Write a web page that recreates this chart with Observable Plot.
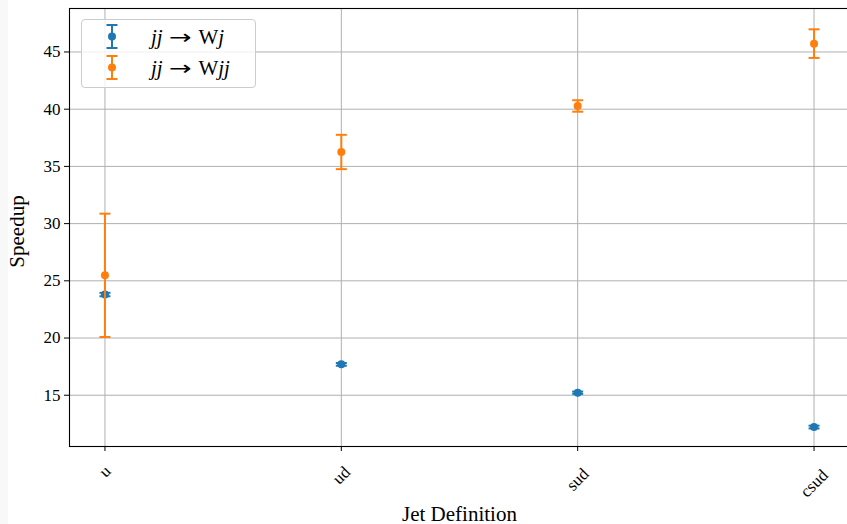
<!DOCTYPE html>
<html>
<head>
<meta charset="utf-8">
<script src="https://cdn.jsdelivr.net/npm/d3@7"></script>
<script src="https://cdn.jsdelivr.net/npm/@observablehq/plot@0.6"></script>
<style>
  html, body { margin: 0; padding: 0; overflow: hidden; width: 847px; height: 524px;
    background: linear-gradient(to right, #f8f8f8 8px, #ffffff 8px); }
  #wrap { position: relative; width: 847px; height: 524px; }
  #chart svg { background: transparent !important; }
  #legend { position: absolute; left: 81px; top: 19px; width: 173px; height: 67px;
    border: 1px solid #cccccc; border-radius: 4px; background: rgba(255,255,255,0.8);
    font-family: "Liberation Serif", "DejaVu Serif", serif; font-size: 21px; color: #000; }
  .row { position: absolute; left: 0; height: 31px; width: 173px; }
  .row svg { position: absolute; left: 22px; top: 0; }
  .row .lbl { position: absolute; left: 69px; top: 2px; white-space: nowrap; }
  .lbl i { font-style: italic; }
  .lbl .arr { display: inline-block; font-family: "DejaVu Sans", sans-serif; font-size: 20px;
    margin: 0 10px 0 9px; transform: scaleX(1.35); }
</style>
</head>
<body>
<div id="wrap">
  <div id="chart"></div>
  <div id="legend"></div>
</div>
<script>
const categories = ["u", "ud", "sud", "csud"];
const seriesNames = ["jj → Wj", "jj → Wjj"];
const wjSpeedup = [23.8, 17.7, 15.22, 12.22];
const wjError = [0.15, 0.12, 0.1, 0.12];
const wjjSpeedup = [25.48, 36.26, 40.28, 45.73];
const wjjError = [5.39, 1.5, 0.5, 1.25];
const yTicks = [15, 20, 25, 30, 35, 40, 45];
const colors = ["#1f77b4", "#ff7f0e"];

const rows = [];
categories.forEach((c, i) => {
  rows.push({i, cat: c, series: 0, v: wjSpeedup[i], lo: wjSpeedup[i] - wjError[i], hi: wjSpeedup[i] + wjError[i]});
  rows.push({i, cat: c, series: 1, v: wjjSpeedup[i], lo: wjjSpeedup[i] - wjjError[i], hi: wjjSpeedup[i] + wjjError[i]});
});

const capSymbol = { draw(ctx) { ctx.moveTo(-5.5, 0); ctx.lineTo(5.5, 0); } };
const font = "'Liberation Serif', 'DejaVu Serif', serif";

const tickLabelMarks = categories.map((c, i) =>
  Plot.text([i], {x: d => d, text: () => c, frameAnchor: "bottom", rotate: -45,
    textAnchor: "middle", lineAnchor: "middle", dy: 21 + 4 * c.length, fontSize: 17, fill: "black"})
);

const seriesMarks = [0, 1].flatMap(s => {
  const d = rows.filter(r => r.series === s);
  return [
    Plot.ruleX(d, {x: "i", y1: "lo", y2: "hi", stroke: colors[s], strokeWidth: 2}),
    Plot.dot(d, {x: "i", y: "lo", symbol: capSymbol, stroke: colors[s], strokeWidth: 2, fill: "none"}),
    Plot.dot(d, {x: "i", y: "hi", symbol: capSymbol, stroke: colors[s], strokeWidth: 2, fill: "none"}),
    Plot.dot(d, {x: "i", y: "v", r: 4, fill: colors[s], stroke: "none"})
  ];
});

const chart = Plot.plot({
  width: 847,
  height: 524,
  marginLeft: 69,
  marginRight: -2,
  marginTop: 8,
  marginBottom: 78,
  style: {fontFamily: font, fontSize: "16px", color: "black", background: "transparent", overflow: "hidden"},
  x: {domain: [-0.15, 3.15], label: null},
  y: {domain: [10.52, 48.8], label: null},
  marks: [
    Plot.gridX([0, 1, 2, 3], {stroke: "#b0b0b0", strokeOpacity: 1, strokeWidth: 1}),
    Plot.gridY(yTicks, {stroke: "#b0b0b0", strokeOpacity: 1, strokeWidth: 1}),
    Plot.axisY(yTicks, {tickSize: 5, tickPadding: 4, fontSize: 17, label: null, tickFormat: d => String(d)}),
    Plot.axisX([0, 1, 2, 3], {tickSize: 5, tickFormat: () => "", label: null}),
    ...tickLabelMarks,
    Plot.text(["Speedup"], {text: d => d, frameAnchor: "left", textAnchor: "middle", lineAnchor: "middle",
      rotate: -90, dx: -52, dy: 4, fontSize: 21, fill: "black"}),
    Plot.text(["Jet Definition"], {text: d => d, frameAnchor: "bottom", textAnchor: "middle", lineAnchor: "bottom",
      dy: 74, fontSize: 21, fill: "black"}),
    ...seriesMarks,
    Plot.frame({stroke: "black", strokeWidth: 1.1})
  ]
});
document.getElementById("chart").appendChild(chart);

// legend (inside the axes, top-left)
const legend = document.getElementById("legend");
const labelHtml = [
  "<i>jj</i><span class=\"arr\">→</span>W<i>j</i>",
  "<i>jj</i><span class=\"arr\">→</span>W<i>jj</i>"
];
seriesNames.forEach((name, s) => {
  const row = document.createElement("div");
  row.className = "row";
  row.style.top = (s === 0 ? 3 : 34) + "px";
  row.innerHTML =
    `<svg width="20" height="30" viewBox="0 0 20 30">
       <line x1="8" y1="2" x2="8" y2="25" stroke="${colors[s]}" stroke-width="2"/>
       <line x1="2.5" y1="2" x2="13.5" y2="2" stroke="${colors[s]}" stroke-width="2"/>
       <line x1="2.5" y1="25" x2="13.5" y2="25" stroke="${colors[s]}" stroke-width="2"/>
       <circle cx="8" cy="13.5" r="4" fill="${colors[s]}"/>
     </svg><span class="lbl" title="${name}">${labelHtml[s]}</span>`;
  legend.appendChild(row);
});
</script>
</body>
</html>
